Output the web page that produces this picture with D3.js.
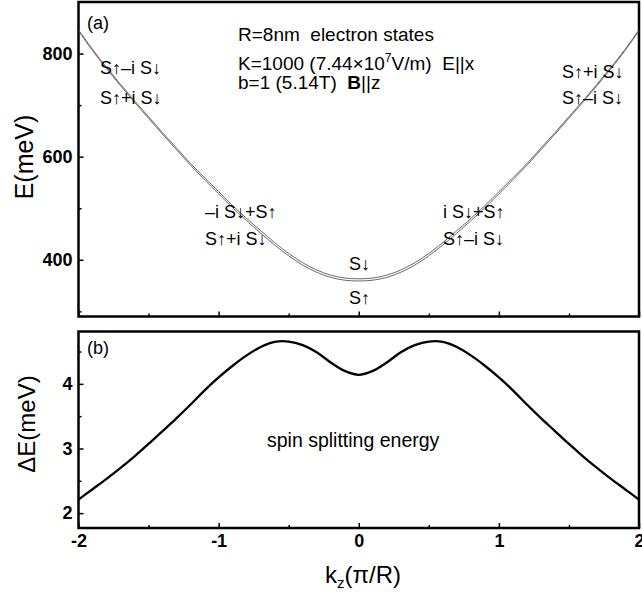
<!DOCTYPE html>
<html><head><meta charset="utf-8">
<script src="https://cdn.jsdelivr.net/npm/d3@7"></script>
<style>body{margin:0;background:#fff}svg{display:block}text{font-family:"Liberation Sans",Arial,sans-serif;white-space:pre}</style>
</head><body>
<script>
const kz = [-2.0,-1.9,-1.8,-1.7,-1.6,-1.5,-1.4,-1.3,-1.2,-1.1,-1.0,-0.9,-0.8,-0.7,-0.6,-0.5,-0.4,-0.3,-0.2,-0.1,0.0,0.1,0.2,0.3,0.4,0.5,0.6,0.7,0.8,0.9,1.0,1.1,1.2,1.3,1.4,1.5,1.6,1.7,1.8,1.9,2.0];
const E_down = [846.1,808.2,773.3,740.3,708.4,677.5,646.6,616.7,586.8,559.0,532.1,505.1,480.2,456.3,433.3,412.3,394.3,380.2,370.2,364.6,363.1,364.6,370.2,380.2,394.3,412.3,433.3,456.3,480.2,505.1,532.1,559.0,586.8,616.7,646.6,677.5,708.4,740.3,773.3,808.2,846.1];
const E_up = [843.9,805.8,770.7,737.7,705.6,674.5,643.4,613.3,583.2,555.0,527.9,500.9,475.8,451.7,428.7,407.7,389.7,375.8,365.8,360.4,358.9,360.4,365.8,375.8,389.7,407.7,428.7,451.7,475.8,500.9,527.9,555.0,583.2,613.3,643.4,674.5,705.6,737.7,770.7,805.8,843.9];
const dE = [2.21,2.37,2.53,2.70,2.88,3.07,3.27,3.47,3.68,3.90,4.10,4.28,4.44,4.57,4.65,4.655,4.60,4.49,4.33,4.20,4.14,4.20,4.33,4.49,4.60,4.655,4.65,4.57,4.44,4.28,4.10,3.90,3.68,3.47,3.27,3.07,2.88,2.70,2.53,2.37,2.21];
const xTicks = [-2,-1,0,1,2];
const xMinor = [-1.5,-0.5,0.5,1.5];
const yaTicks = [400,600,800];
const yaMinor = [300,500,700];
const ybTicks = [2,3,4];
const ybMinor = [2.5,3.5,4.5];

const W=642,H=595;
const svg=d3.select("body").append("svg").attr("width",W).attr("height",H);
const L=78.5,R=639;
const aTop=2,aBot=316.5,bTop=331.5,bBot=528;
const x=d3.scaleLinear().domain([-2,2]).range([L,R]);
const ya=d3.scaleLinear().domain([290,900]).range([aBot,aTop]);
const yb=d3.scaleLinear().domain([1.77,4.81]).range([bBot,bTop]);
const tickFont=g=>g.selectAll("text").attr("font-size",18).attr("font-weight","bold").attr("fill","#000");
const clean=g=>{g.select(".domain").remove();g.selectAll("line").attr("stroke","#000").attr("stroke-width",1.5);};
const fmt=d=>String(d);

function panel(y,top,bot,yT,yM,showX){
  svg.append("g").attr("transform",`translate(${L},0)`).call(d3.axisLeft(y).tickValues(yT).tickSizeInner(-5).tickSizeOuter(0).tickPadding(6).tickFormat(fmt)).call(clean).call(tickFont);
  svg.append("g").attr("transform",`translate(${L},0)`).call(d3.axisLeft(y).tickValues(yM).tickSizeInner(-3).tickSizeOuter(0).tickFormat("")).call(clean);
  const xa=d3.axisBottom(x).tickValues(xTicks).tickSizeInner(-5).tickSizeOuter(0).tickPadding(6).tickFormat(showX?fmt:"");
  svg.append("g").attr("transform",`translate(0,${bot})`).call(xa).call(clean).call(tickFont);
  svg.append("g").attr("transform",`translate(0,${bot})`).call(d3.axisBottom(x).tickValues(xMinor).tickSizeInner(-3).tickSizeOuter(0).tickFormat("")).call(clean);
  svg.append("rect").attr("x",L).attr("y",top).attr("width",R-L).attr("height",bot-top).attr("fill","none").attr("stroke","#000").attr("stroke-width",2.5);
}
panel(ya,aTop,aBot,yaTicks,yaMinor,false);
panel(yb,bTop,bBot,ybTicks,ybMinor,true);

const lineA=d3.line().x((d,i)=>x(kz[i])).y(d=>ya(d)).curve(d3.curveCatmullRom);
svg.append("path").attr("d",lineA(E_down)).attr("fill","none").attr("stroke","#444").attr("stroke-width",0.8);
svg.append("path").attr("d",lineA(E_up)).attr("fill","none").attr("stroke","#444").attr("stroke-width",0.8);
const lineB=d3.line().x((d,i)=>x(kz[i])).y(d=>yb(d)).curve(d3.curveCatmullRom);
svg.append("path").attr("d",lineB(dE)).attr("fill","none").attr("stroke","#000").attr("stroke-width",2.3);

function txt(s,xp,yp,size,opts={}){
  const t=svg.append("text").attr("x",xp).attr("y",yp).attr("font-size",size).attr("fill","#000");
  if(opts.anchor)t.attr("text-anchor",opts.anchor);
  if(opts.weight)t.attr("font-weight",opts.weight);
  if(opts.rotate)t.attr("transform",`rotate(-90,${xp},${yp})`);
  t.text(s);return t;
}
txt("(a)",87,29,18);
txt("(b)",87,354,18);
txt("R=8nm  electron states",238,41,19);
const k=svg.append("text").attr("x",238).attr("y",70).attr("font-size",19);
k.append("tspan").text("K=1000 (7.44×10");
k.append("tspan").attr("font-size",12).attr("dy",-8).text("7");
k.append("tspan").attr("dy",8).text("V/m)  E||x");
const b=svg.append("text").attr("x",238).attr("y",89).attr("font-size",19);
b.append("tspan").text("b=1 (5.14T)  ");
b.append("tspan").attr("font-weight","bold").text("B");
b.append("tspan").text("||z");

const labs=[["S↑–i S↓",100,74],["S↑+i S↓",100,104],["–i S↓+S↑",205,218],["S↑+i S↓",205,245],
["S↓",349,270],["S↑",349,304],["i S↓+S↑",443,218],["S↑–i S↓",443,245],["S↑+i S↓",562,78],["S↑–i S↓",562,104]];
labs.forEach(l=>txt(l[0],l[1],l[2],18));

txt("spin splitting energy",267,447,19.5);
txt("E(meV)",33,157,25,{anchor:"middle",rotate:true});
txt("ΔE(meV)",35,424,24,{anchor:"middle",rotate:true});
const xl=svg.append("text").attr("x",363).attr("y",583).attr("font-size",24).attr("text-anchor","middle");
xl.append("tspan").text("k");
xl.append("tspan").attr("font-size",15).attr("dy",5).text("z");
xl.append("tspan").attr("dy",-5).text("(π/R)");
</script>
</body></html>
